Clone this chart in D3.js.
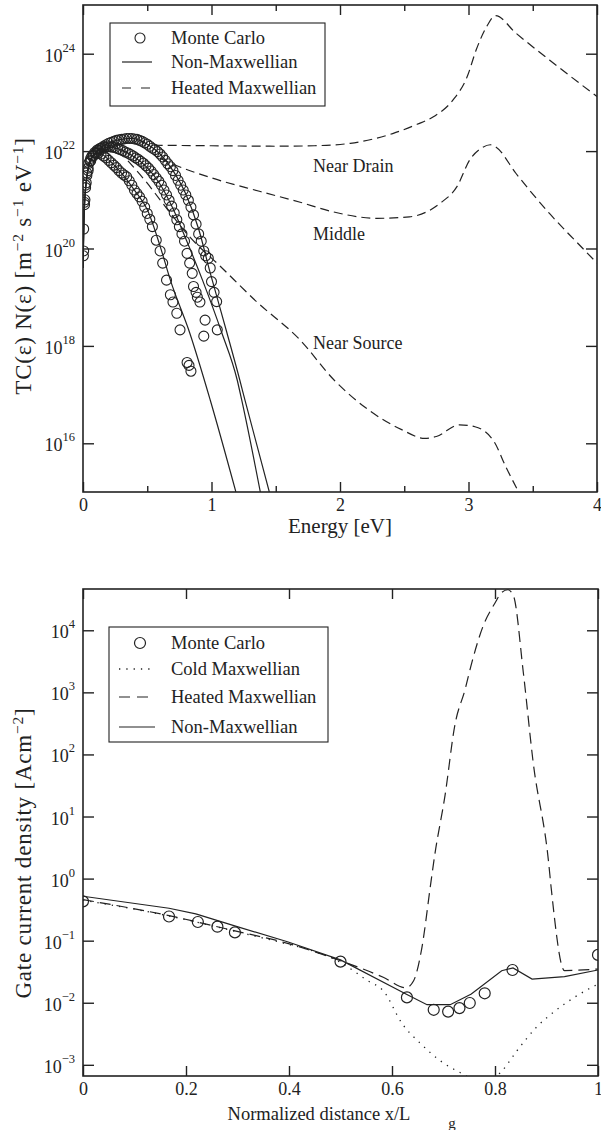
<!DOCTYPE html>
<html>
<head>
<meta charset="utf-8">
<script src="https://cdn.jsdelivr.net/npm/d3@7"></script>
<style>
  body { margin: 0; background: #fff; }
  text { font-family: "Liberation Serif", "Times New Roman", serif; fill: #222; }
</style>
</head>
<body>
<svg id="fig" width="601" height="1130"></svg>
<script>

// ---- top panel: energy distributions, values are [energy eV, log10(TC N)] ----
const energyTicks = [0, 1, 2, 3, 4];
const energyMinorTicks = [0.5, 1.5, 2.5, 3.5];
const fluxExpTicks = [16, 18, 20, 22, 24];

const mcSource = [[0.003, 19.85], [0.01, 20.95], [0.02, 21.3], [0.03, 21.55], [0.045, 21.75], [0.06, 21.85],
    [0.08, 21.92], [0.1, 21.95], [0.12, 21.96], [0.14, 21.94], [0.16, 21.9], [0.18, 21.86], [0.2, 21.81],
    [0.22, 21.76], [0.24, 21.71], [0.26, 21.66], [0.28, 21.6], [0.3, 21.55], [0.32, 21.51], [0.34, 21.47],
    [0.36, 21.39], [0.38, 21.3], [0.4, 21.2], [0.42, 21.13], [0.44, 21.06], [0.46, 20.97], [0.48, 20.85],
    [0.5, 20.72], [0.52, 20.6], [0.54, 20.45], [0.57, 20.17], [0.6, 19.95], [0.62, 19.7], [0.65, 19.35],
    [0.68, 19.05], [0.7, 18.9], [0.73, 18.67], [0.755, 18.33], [0.81, 17.66], [0.825, 17.6], [0.84, 17.48]];
const mcMiddle = [[0.005, 19.95], [0.012, 20.9], [0.02, 21.25], [0.03, 21.5], [0.04, 21.65], [0.055, 21.8],
    [0.07, 21.9], [0.09, 21.97], [0.11, 22.02], [0.13, 22.05], [0.15, 22.07], [0.17, 22.08], [0.19, 22.09],
    [0.21, 22.09], [0.23, 22.08], [0.25, 22.07], [0.27, 22.05], [0.29, 22.03], [0.31, 22.01], [0.33, 21.98],
    [0.35, 21.96], [0.37, 21.93], [0.39, 21.9], [0.41, 21.86], [0.43, 21.83], [0.45, 21.79], [0.47, 21.75],
    [0.49, 21.7], [0.51, 21.65], [0.53, 21.59], [0.55, 21.52], [0.57, 21.45], [0.59, 21.38], [0.61, 21.3],
    [0.63, 21.2], [0.65, 21.1], [0.67, 20.99], [0.69, 20.87], [0.71, 20.73], [0.73, 20.59], [0.75, 20.45],
    [0.77, 20.3], [0.79, 20.15], [0.81, 19.9], [0.83, 19.7], [0.85, 19.49], [0.86, 19.22], [0.88, 19.1],
    [0.89, 19.0], [0.91, 18.9], [0.94, 18.2], [0.95, 18.53]];
const mcDrain = [[0.005, 20.4], [0.015, 21.0], [0.025, 21.35], [0.04, 21.6], [0.06, 21.8], [0.08, 21.9],
    [0.1, 21.97], [0.12, 22.02], [0.14, 22.06], [0.16, 22.1], [0.18, 22.13], [0.2, 22.16], [0.22, 22.18],
    [0.24, 22.2], [0.26, 22.22], [0.28, 22.23], [0.3, 22.24], [0.32, 22.25], [0.34, 22.26], [0.36, 22.26],
    [0.38, 22.26], [0.4, 22.25], [0.42, 22.24], [0.44, 22.22], [0.46, 22.2], [0.48, 22.17], [0.5, 22.14],
    [0.52, 22.1], [0.54, 22.06], [0.56, 22.03], [0.58, 21.99], [0.6, 21.94], [0.62, 21.88], [0.64, 21.81],
    [0.66, 21.74], [0.68, 21.68], [0.7, 21.6], [0.72, 21.5], [0.74, 21.4], [0.76, 21.3], [0.78, 21.2],
    [0.8, 21.1], [0.82, 20.99], [0.84, 20.85], [0.86, 20.69], [0.88, 20.5], [0.9, 20.3], [0.92, 20.15],
    [0.94, 19.95], [0.955, 19.85], [0.975, 19.8], [0.99, 19.6], [1.0, 19.32], [1.02, 19.1], [1.04, 18.91],
    [1.045, 18.33]];

const nonMaxSource = [[0, 19.6], [0.01, 20.8], [0.03, 21.5], [0.06, 21.85], [0.1, 21.95], [0.15, 21.93],
    [0.2, 21.82], [0.3, 21.55], [0.4, 21.2], [0.5, 20.8], [0.6, 20.05], [0.68, 19.35], [0.83, 18.27],
    [0.99, 16.89], [1.19, 15.0]];
const nonMaxMiddle = [[0, 19.6], [0.01, 20.8], [0.03, 21.45], [0.06, 21.8], [0.1, 21.97], [0.2, 22.08],
    [0.3, 22.02], [0.4, 21.88], [0.5, 21.66], [0.6, 21.32], [0.7, 20.82], [0.8, 20.2], [0.93, 19.35],
    [1.08, 18.27], [1.2, 17.3], [1.235, 16.89], [1.38, 15.0]];
const nonMaxDrain = [[0, 19.6], [0.01, 20.8], [0.03, 21.45], [0.06, 21.8], [0.1, 21.97], [0.2, 22.16],
    [0.3, 22.24], [0.38, 22.26], [0.5, 22.14], [0.6, 21.94], [0.7, 21.6], [0.8, 21.12], [0.9, 20.4],
    [0.99, 19.5], [1.12, 18.27], [1.22, 17.3], [1.26, 16.89], [1.45, 15.0]];

const heatedSource = [[0.35, 21.8], [0.5, 21.34], [0.6, 21.0], [0.83, 20.24], [1.07, 19.63], [1.35, 18.91],
    [1.69, 18.12], [1.95, 17.31], [2.22, 16.69], [2.48, 16.28], [2.66, 16.1], [2.75, 16.14], [2.93, 16.38],
    [3.05, 16.34], [3.2, 16.03], [3.29, 15.52], [3.39, 15.0]];
const heatedMiddle = [[0.6, 21.85], [0.75, 21.68], [1.0, 21.45], [1.38, 21.17], [1.69, 20.95], [1.95, 20.75],
    [2.29, 20.62], [2.54, 20.65], [2.78, 20.93], [2.91, 21.27], [3.01, 21.82], [3.1, 22.06], [3.17, 22.13],
    [3.21, 22.09], [3.37, 21.54], [3.63, 20.72], [3.89, 20.0], [4.0, 19.7]];
const heatedDrain = [[0.55, 22.12], [1.0, 22.11], [1.5, 22.1], [1.8, 22.11], [2.08, 22.16], [2.41, 22.36],
    [2.6, 22.55], [2.73, 22.71], [2.88, 23.05], [2.99, 23.53], [3.06, 24.08], [3.14, 24.55], [3.21, 24.78],
    [3.37, 24.42], [3.63, 23.87], [4.0, 23.12]];

const regionNames = ["Near Drain", "Middle", "Near Source"];
const topLegend = ["Monte Carlo", "Non-Maxwellian", "Heated Maxwellian"];

// ---- bottom panel: gate current density [A cm^-2] vs x/Lg ----
const distTicks = [0, 0.2, 0.4, 0.6, 0.8, 1];
const gateExpTicks = [-3, -2, -1, 0, 1, 2, 3, 4];

const mcGate = [[0, 0.43], [0.167, 0.245], [0.223, 0.2], [0.261, 0.168], [0.295, 0.136], [0.5, 0.046],
    [0.629, 0.0122], [0.681, 0.0077], [0.709, 0.0072], [0.731, 0.0082], [0.751, 0.0099], [0.78, 0.0142],
    [0.834, 0.0337], [1.0, 0.059]];
const coldGate = [[0, 0.45], [0.167, 0.25], [0.293, 0.143], [0.397, 0.088], [0.434, 0.0735], [0.5, 0.0447],
    [0.553, 0.0226], [0.583, 0.0156], [0.62, 0.00457], [0.657, 0.00214], [0.694, 0.00116], [0.731, 0.00076],
    [0.768, 0.00056], [0.79, 0.00056], [0.813, 0.00079], [0.843, 0.0017], [0.88, 0.004], [0.917, 0.0074],
    [0.954, 0.0122], [1.0, 0.02]];
const heatedGate = [[0, 0.458], [0.167, 0.253], [0.293, 0.145], [0.397, 0.0906], [0.5, 0.0475], [0.583, 0.0257],
    [0.627, 0.0174], [0.642, 0.0226], [0.657, 0.069], [0.676, 0.93], [0.683, 2.4], [0.703, 21.9], [0.722, 295],
    [0.742, 1122], [0.755, 3020], [0.777, 11750], [0.8, 27500], [0.812, 40000], [0.825, 45000], [0.836, 35500],
    [0.855, 2090], [0.874, 75.9], [0.904, 1.86], [0.909, 0.72], [0.935, 0.033], [1.0, 0.035]];
const nonMaxGate = [[0, 0.52], [0.167, 0.333], [0.219, 0.27], [0.293, 0.175], [0.397, 0.096], [0.5, 0.049],
    [0.627, 0.0138], [0.668, 0.0093], [0.713, 0.0093], [0.754, 0.0138], [0.813, 0.0328], [0.835, 0.0363],
    [0.872, 0.0241], [0.935, 0.0263], [1.0, 0.0337]];

const bottomLegend = ["Monte Carlo", "Cold Maxwellian", "Heated Maxwellian", "Non-Maxwellian"];


const svg = d3.select('#fig');
const ink = '#222';

/**
 * frame, inward ticks on all four sides and power-of-ten labels
 */
function drawFrame(box, x, y, xTicks, xMinor, yTicks, xFormat, yAt, supFormat) {

    let g = svg.append('g');

    g.append('g').attr('transform', `translate(0,${box.bottom})`)
        .call(d3.axisBottom(x).tickValues(xTicks).tickSizeInner(-10).tickSizeOuter(0).tickPadding(6).tickFormat(xFormat));
    g.append('g').attr('transform', `translate(0,${box.top})`)
        .call(d3.axisTop(x).tickValues(xTicks).tickSizeInner(-10).tickSizeOuter(0).tickFormat(''));
    if (xMinor.length) {
        g.append('g').attr('transform', `translate(0,${box.bottom})`)
            .call(d3.axisBottom(x).tickValues(xMinor).tickSizeInner(-6).tickSizeOuter(0).tickFormat(''));
        g.append('g').attr('transform', `translate(0,${box.top})`)
            .call(d3.axisTop(x).tickValues(xMinor).tickSizeInner(-6).tickSizeOuter(0).tickFormat(''));
    }
    g.append('g').attr('transform', `translate(${box.left},0)`)
        .call(d3.axisLeft(y).tickValues(yTicks.map(yAt)).tickSizeInner(-11).tickSizeOuter(0).tickFormat(''));
    g.append('g').attr('transform', `translate(${box.right},0)`)
        .call(d3.axisRight(y).tickValues(yTicks.map(yAt)).tickSizeInner(-11).tickSizeOuter(0).tickFormat(''));

    g.selectAll('.domain').remove();
    g.selectAll('.tick line').attr('stroke', ink).attr('stroke-width', 1.4);
    g.selectAll('.tick text').attr('font-size', 18).attr('fill', ink)
        .style('font-family', '"Liberation Serif", serif');

    g.append('rect')
        .attr('x', box.left).attr('y', box.top)
        .attr('width', box.right - box.left).attr('height', box.bottom - box.top)
        .attr('fill', 'none').attr('stroke', ink).attr('stroke-width', 1.6);

    // 10^n labels
    let lab = g.selectAll('.ylab').data(yTicks).enter().append('text')
        .classed('ylab', true)
        .attr('text-anchor', 'end')
        .attr('x', box.left - 8)
        .attr('y', (d) => y(yAt(d)) + 8)
        .attr('font-size', 18);
    lab.append('tspan').text('10');
    lab.append('tspan').attr('dy', -10).attr('font-size', 12.5).text((d) => supFormat(d));
}

function addClip(id, box) {
    svg.append('clipPath').attr('id', id).append('rect')
        .attr('x', box.left).attr('y', box.top)
        .attr('width', box.right - box.left).attr('height', box.bottom - box.top);
}

// rotated axis title with superscript units, parts: [text, isSuperscript]
function yTitle(cx, cy, parts) {
    let t = svg.append('text')
        .attr('transform', `translate(${cx},${cy}) rotate(-90)`)
        .attr('text-anchor', 'middle').attr('font-size', 23).attr('letter-spacing', 0.8);
    parts.forEach((p, i) => {
        let prevSup = i > 0 && parts[i - 1][1];
        let ts = t.append('tspan').text(p[0]);
        if (p[1]) ts.attr('dy', -8).attr('font-size', 15.5);
        else if (prevSup) ts.attr('dy', 8);
    });
}

// ================= top panel =================
const topBox = {left: 83, right: 597, top: 5, bottom: 492};
const xE = d3.scaleLinear().domain([0, 4]).range([topBox.left, topBox.right]);
const yF = d3.scaleLog().domain([1e15, 1e25]).range([topBox.bottom, topBox.top]);
addClip('clipTop', topBox);

const lineTop = d3.line().x((d) => xE(d[0])).y((d) => yF(10 ** d[1])).curve(d3.curveMonotoneX);

let plotTop = svg.append('g').attr('clip-path', 'url(#clipTop)');

[heatedSource, heatedMiddle, heatedDrain].forEach((s) => {
    plotTop.append('path').datum(s).attr('d', lineTop)
        .attr('fill', 'none').attr('stroke', ink).attr('stroke-width', 1.2).attr('stroke-dasharray', '9,5');
});
[nonMaxSource, nonMaxMiddle, nonMaxDrain].forEach((s) => {
    plotTop.append('path').datum(s).attr('d', lineTop)
        .attr('fill', 'none').attr('stroke', ink).attr('stroke-width', 1.2);
});
[mcSource, mcMiddle, mcDrain].forEach((s) => {
    plotTop.selectAll(null).data(s).enter().append('circle')
        .attr('cx', (d) => xE(d[0])).attr('cy', (d) => yF(10 ** d[1])).attr('r', 5)
        .attr('fill', 'none').attr('stroke', ink).attr('stroke-width', 1.1);
});

drawFrame(topBox, xE, yF, energyTicks, energyMinorTicks, fluxExpTicks, d3.format('d'),
    (p) => 10 ** p, (p) => String(p));

// region annotations
const regionPos = [[1.79, 21.57], [1.79, 20.17], [1.79, 17.94]];
svg.selectAll('.region').data(regionNames).enter().append('text')
    .attr('x', (d, i) => xE(regionPos[i][0]))
    .attr('y', (d, i) => yF(10 ** regionPos[i][1]))
    .attr('font-size', 18)
    .text((d) => d);

// legend
let legTop = svg.append('g').attr('transform', 'translate(110,23)');
legTop.append('rect').attr('width', 215).attr('height', 83)
    .attr('fill', '#fff').attr('stroke', ink).attr('stroke-width', 1.1);
const legTopY = [15, 39, 65];
legTop.append('circle').attr('cx', 30).attr('cy', legTopY[0]).attr('r', 5)
    .attr('fill', 'none').attr('stroke', ink).attr('stroke-width', 1.1);
legTop.append('line').attr('x1', 12).attr('x2', 42).attr('y1', legTopY[1]).attr('y2', legTopY[1])
    .attr('stroke', ink).attr('stroke-width', 1.2);
legTop.append('line').attr('x1', 12).attr('x2', 42).attr('y1', legTopY[2]).attr('y2', legTopY[2])
    .attr('stroke', ink).attr('stroke-width', 1.2).attr('stroke-dasharray', '9,10');
legTop.selectAll('.lt').data(topLegend).enter().append('text')
    .attr('x', 61).attr('y', (d, i) => legTopY[i] + 6)
    .attr('font-size', 18.5).text((d) => d);

// axis titles
svg.append('text').attr('x', (topBox.left + topBox.right) / 2).attr('y', 533)
    .attr('text-anchor', 'middle').attr('font-size', 21).text('Energy [eV]');

yTitle(31, 266, [['TC(ε) N(ε) [m', false], ['−2', true], [' s', false], ['−1', true],
    [' eV', false], ['−1', true], [']', false]]);

// ================= bottom panel =================
const botBox = {left: 83, right: 598, top: 589, bottom: 1076};
const xD = d3.scaleLinear().domain([0, 1]).range([botBox.left, botBox.right]);
const yG = d3.scaleLog().domain([10 ** -3.18, 10 ** 4.665]).range([botBox.bottom, botBox.top]);
addClip('clipBot', botBox);

const lineBot = d3.line().x((d) => xD(d[0])).y((d) => yG(d[1]));

let plotBot = svg.append('g').attr('clip-path', 'url(#clipBot)');

plotBot.append('path').datum(coldGate).attr('d', lineBot.curve(d3.curveMonotoneX))
    .attr('fill', 'none').attr('stroke', ink).attr('stroke-width', 1.3).attr('stroke-dasharray', '1.3,6');
plotBot.append('path').datum(heatedGate).attr('d', lineBot.curve(d3.curveMonotoneX))
    .attr('fill', 'none').attr('stroke', ink).attr('stroke-width', 1.2).attr('stroke-dasharray', '11,6');
plotBot.append('path').datum(nonMaxGate).attr('d', lineBot.curve(d3.curveLinear))
    .attr('fill', 'none').attr('stroke', ink).attr('stroke-width', 1.2);
plotBot.selectAll(null).data(mcGate).enter().append('circle')
    .attr('cx', (d) => xD(d[0])).attr('cy', (d) => yG(d[1])).attr('r', 5.5)
    .attr('fill', 'none').attr('stroke', ink).attr('stroke-width', 1.2);

drawFrame(botBox, xD, yG, distTicks, [], gateExpTicks, (d) => d === 0 || d === 1 ? String(d) : d3.format('.1f')(d),
    (p) => 10 ** p, (p) => (p < 0 ? '−' + (-p) : String(p)));

// legend
let legBot = svg.append('g').attr('transform', 'translate(109,627)');
legBot.append('rect').attr('width', 219).attr('height', 115)
    .attr('fill', '#fff').attr('stroke', ink).attr('stroke-width', 1.1);
const legBotY = [16, 42, 70, 100];
legBot.append('circle').attr('cx', 31).attr('cy', legBotY[0]).attr('r', 5.5)
    .attr('fill', 'none').attr('stroke', ink).attr('stroke-width', 1.2);
legBot.append('line').attr('x1', 10).attr('x2', 46).attr('y1', legBotY[1]).attr('y2', legBotY[1])
    .attr('stroke', ink).attr('stroke-width', 1.3).attr('stroke-dasharray', '1.3,6');
legBot.append('line').attr('x1', 10).attr('x2', 46).attr('y1', legBotY[2]).attr('y2', legBotY[2])
    .attr('stroke', ink).attr('stroke-width', 1.2).attr('stroke-dasharray', '11,7');
legBot.append('line').attr('x1', 10).attr('x2', 46).attr('y1', legBotY[3]).attr('y2', legBotY[3])
    .attr('stroke', ink).attr('stroke-width', 1.2);
legBot.selectAll('.lb').data(bottomLegend).enter().append('text')
    .attr('x', 62).attr('y', (d, i) => legBotY[i] + 6)
    .attr('font-size', 18.5).text((d) => d);

// axis titles
svg.append('text').attr('x', 319).attr('y', 1120)
    .attr('text-anchor', 'middle').attr('font-size', 18.5).text('Normalized distance x/L');
svg.append('text').attr('x', 452).attr('y', 1128)
    .attr('text-anchor', 'middle').attr('font-size', 15).text('g');

yTitle(31, 853, [['Gate current density [Acm', false], ['−2', true], [']', false]]);

</script>
</body>
</html>
